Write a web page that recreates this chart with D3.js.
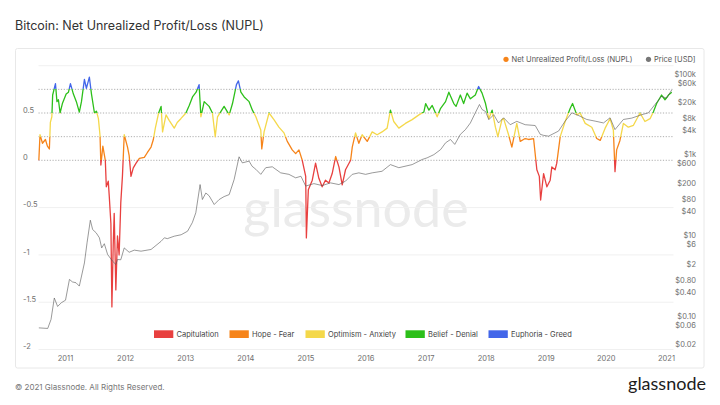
<!DOCTYPE html>
<html>
<head>
<meta charset="utf-8">
<script src="https://cdn.jsdelivr.net/npm/d3@7"></script>
<style>
  html, body { margin: 0; padding: 0; background: #fff; }
  svg { display: block; font-family: Inter, "Noto Sans", sans-serif; }
</style>
</head>
<body>
<svg id="chart"></svg>
<script>
// Bitcoin NUPL vs price

const nupl = [
  ['2010-07-23', 0.00], ['2010-07-30', 0.27], ['2010-08-14', 0.18], ['2010-09-01', 0.22],
  ['2010-09-13', 0.15], ['2010-09-25', 0.12], ['2010-10-01', 0.40], ['2010-10-10', 0.46],
  ['2010-10-15', 0.69], ['2010-11-01', 0.81], ['2010-11-10', 0.62], ['2010-11-19', 0.64],
  ['2010-11-29', 0.50], ['2010-12-13', 0.60], ['2011-01-05', 0.70], ['2011-01-19', 0.72],
  ['2011-01-31', 0.81], ['2011-02-18', 0.70], ['2011-03-08', 0.62], ['2011-03-26', 0.51],
  ['2011-04-08', 0.62], ['2011-04-26', 0.855], ['2011-05-08', 0.76], ['2011-05-26', 0.88],
  ['2011-06-08', 0.70], ['2011-06-26', 0.50], ['2011-07-08', 0.52], ['2011-07-20', 0.44],
  ['2011-07-30', 0.26], ['2011-08-04', -0.05], ['2011-08-16', 0.15], ['2011-08-31', 0.00],
  ['2011-09-06', -0.28], ['2011-09-18', -0.22], ['2011-09-24', -0.38], ['2011-10-04', -0.67],
  ['2011-10-10', -1.55], ['2011-10-18', -0.90], ['2011-10-24', -0.56], ['2011-11-03', -1.37],
  ['2011-11-13', -0.80], ['2011-11-23', -1.00], ['2011-12-03', -0.45], ['2011-12-13', -0.17],
  ['2011-12-24', 0.27], ['2012-01-13', 0.14], ['2012-01-23', 0.05], ['2012-02-03', -0.17],
  ['2012-02-17', -0.08], ['2012-03-05', -0.03], ['2012-03-25', 0.02], ['2012-04-24', 0.03],
  ['2012-05-12', 0.08], ['2012-06-04', 0.14], ['2012-06-18', 0.22], ['2012-06-30', 0.34],
  ['2012-07-20', 0.50], ['2012-08-04', 0.57], ['2012-08-13', 0.30], ['2012-09-03', 0.48],
  ['2012-09-23', 0.42], ['2012-10-23', 0.34], ['2012-11-10', 0.40], ['2012-12-02', 0.44],
  ['2013-01-02', 0.50], ['2013-01-22', 0.58], ['2013-02-11', 0.67], ['2013-03-05', 0.72],
  ['2013-03-23', 0.80], ['2013-04-03', 0.46], ['2013-04-23', 0.62], ['2013-05-23', 0.57],
  ['2013-06-12', 0.50], ['2013-06-29', 0.25], ['2013-07-13', 0.46], ['2013-08-04', 0.52],
  ['2013-08-22', 0.57], ['2013-09-22', 0.48], ['2013-10-12', 0.60], ['2013-11-05', 0.80],
  ['2013-11-17', 0.84], ['2013-12-02', 0.72], ['2013-12-22', 0.67], ['2014-01-21', 0.62],
  ['2014-02-10', 0.53], ['2014-03-03', 0.46], ['2014-04-02', 0.32], ['2014-04-08', 0.12],
  ['2014-04-22', 0.30], ['2014-05-22', 0.50], ['2014-06-21', 0.43], ['2014-07-21', 0.35],
  ['2014-08-21', 0.29], ['2014-09-10', 0.20], ['2014-10-10', 0.11], ['2014-10-31', 0.07],
  ['2014-11-20', 0.11], ['2014-12-10', 0.00], ['2014-12-31', -0.17], ['2015-01-04', -0.82],
  ['2015-01-16', -0.31], ['2015-02-09', -0.21], ['2015-03-01', -0.03], ['2015-03-21', -0.19],
  ['2015-04-10', -0.28], ['2015-04-30', -0.21], ['2015-05-21', -0.24], ['2015-06-10', -0.14],
  ['2015-07-01', 0.04], ['2015-07-21', -0.07], ['2015-08-10', -0.26], ['2015-08-30', -0.10],
  ['2015-09-30', 0.00], ['2015-10-10', 0.14], ['2015-10-30', 0.29], ['2015-11-19', 0.18],
  ['2015-12-09', 0.27], ['2016-01-09', 0.20], ['2016-02-08', 0.30], ['2016-03-09', 0.27],
  ['2016-04-08', 0.30], ['2016-05-09', 0.34], ['2016-05-29', 0.53], ['2016-06-18', 0.41],
  ['2016-07-19', 0.34], ['2016-08-28', 0.39], ['2016-10-08', 0.43], ['2016-11-18', 0.48],
  ['2016-12-18', 0.51], ['2016-12-29', 0.60], ['2017-01-18', 0.53], ['2017-02-07', 0.58],
  ['2017-03-09', 0.46], ['2017-03-30', 0.55], ['2017-04-29', 0.62], ['2017-05-19', 0.72],
  ['2017-06-18', 0.60], ['2017-07-02', 0.57], ['2017-07-28', 0.69], ['2017-08-17', 0.60],
  ['2017-09-07', 0.71], ['2017-09-27', 0.65], ['2017-10-27', 0.69], ['2017-11-16', 0.78],
  ['2017-12-07', 0.71], ['2017-12-28', 0.60], ['2018-01-17', 0.44], ['2018-02-06', 0.53],
  ['2018-02-26', 0.35], ['2018-03-13', 0.25], ['2018-04-07', 0.43], ['2018-04-17', 0.44],
  ['2018-05-17', 0.27], ['2018-06-06', 0.14], ['2018-07-06', 0.39], ['2018-07-27', 0.20],
  ['2018-08-26', 0.23], ['2018-09-16', 0.22], ['2018-10-16', 0.23], ['2018-11-05', -0.10],
  ['2018-11-20', -0.17], ['2018-11-28', -0.42], ['2018-12-16', -0.14], ['2019-01-05', -0.28],
  ['2019-01-25', -0.21], ['2019-02-04', -0.07], ['2019-02-24', -0.10], ['2019-03-06', -0.03],
  ['2019-03-27', 0.25], ['2019-04-26', 0.41], ['2019-05-27', 0.55], ['2019-06-10', 0.60],
  ['2019-07-06', 0.48], ['2019-07-26', 0.50], ['2019-08-26', 0.39], ['2019-10-05', 0.35],
  ['2019-11-04', 0.23], ['2019-11-25', 0.21], ['2019-12-25', 0.34], ['2020-01-24', 0.44],
  ['2020-02-13', 0.32], ['2020-02-23', -0.12], ['2020-03-04', 0.11], ['2020-03-24', 0.21],
  ['2020-04-14', 0.39], ['2020-05-14', 0.35], ['2020-06-14', 0.37], ['2020-07-24', 0.50],
  ['2020-08-23', 0.41], ['2020-09-23', 0.44], ['2020-10-13', 0.51], ['2020-11-02', 0.60],
  ['2020-12-02', 0.69], ['2020-12-23', 0.64], ['2021-01-13', 0.69], ['2021-02-02', 0.72]
];

const price = [
  ['2010-07-23', 0.062], ['2010-09-15', 0.06], ['2010-10-05', 0.10], ['2010-10-25', 0.34],
  ['2010-11-14', 0.21], ['2010-12-07', 0.26], ['2011-01-01', 0.30], ['2011-01-25', 0.98],
  ['2011-02-12', 0.85], ['2011-03-06', 0.81], ['2011-03-26', 0.67], ['2011-04-26', 2.5],
  ['2011-05-12', 7.9], ['2011-06-01', 28.6], ['2011-06-15', 16.8], ['2011-07-06', 14],
  ['2011-07-26', 10.5], ['2011-08-09', 5.9], ['2011-08-25', 7.5], ['2011-09-14', 4.05],
  ['2011-10-14', 2.77], ['2011-11-03', 2.3], ['2011-11-13', 3.05], ['2011-12-03', 3.0],
  ['2011-12-24', 5.9], ['2012-01-23', 4.6], ['2012-02-23', 5.2], ['2012-04-04', 4.9],
  ['2012-06-04', 5.4], ['2012-08-04', 8.6], ['2012-08-24', 10.5], ['2012-09-11', 10.0],
  ['2012-10-23', 11.5], ['2012-12-04', 12.5], ['2013-01-12', 15.3], ['2013-02-10', 25],
  ['2013-03-03', 43.6], ['2013-03-29', 218], ['2013-04-12', 93], ['2013-05-03', 135],
  ['2013-05-23', 115], ['2013-06-23', 70], ['2013-07-23', 93], ['2013-08-22', 110],
  ['2013-09-22', 123], ['2013-10-22', 290], ['2013-11-21', 1060], ['2013-12-11', 750],
  ['2014-01-21', 830], ['2014-02-08', 620], ['2014-03-03', 520], ['2014-04-02', 390],
  ['2014-05-02', 570], ['2014-06-11', 600], ['2014-08-01', 425], ['2014-09-20', 390],
  ['2014-10-31', 320], ['2014-12-02', 350], ['2014-12-31', 200], ['2015-02-19', 230],
  ['2015-04-10', 206], ['2015-05-31', 240], ['2015-07-21', 218], ['2015-08-30', 265],
  ['2015-10-10', 390], ['2015-11-19', 425], ['2015-12-30', 390], ['2016-02-08', 425],
  ['2016-04-08', 465], ['2016-05-29', 680], ['2016-07-19', 570], ['2016-10-08', 680],
  ['2016-12-08', 910], ['2017-01-07', 1000], ['2017-02-17', 1200], ['2017-03-30', 1600],
  ['2017-04-29', 2350], ['2017-05-29', 2840], ['2017-06-24', 2150], ['2017-07-28', 3800],
  ['2017-08-28', 5000], ['2017-09-27', 7300], ['2017-10-27', 13000], ['2017-11-21', 20900],
  ['2017-12-07', 15700], ['2017-12-28', 14000], ['2018-01-17', 8800], ['2018-02-16', 11700],
  ['2018-03-17', 7300], ['2018-04-17', 9800], ['2018-05-27', 6600], ['2018-07-06', 8000],
  ['2018-08-26', 6600], ['2018-10-26', 6300], ['2018-11-26', 3800], ['2018-12-16', 3600],
  ['2019-01-15', 3440], ['2019-03-17', 4600], ['2019-04-26', 8100], ['2019-06-06', 13000],
  ['2019-07-26', 10700], ['2019-09-04', 8900], ['2019-10-25', 8100], ['2019-12-15', 7300],
  ['2020-01-24', 9800], ['2020-02-23', 5000], ['2020-04-14', 8900], ['2020-06-03', 9600],
  ['2020-08-04', 11700], ['2020-09-13', 13000], ['2020-10-23', 20900], ['2020-12-02', 33000],
  ['2021-01-02', 30000], ['2021-02-02', 48000]
];

const nuplTicks = [0.5, 0, -0.5, -1, -1.5, -2];
const gridTicks = [1, -0.5, -1, -1.5, -2];
const zoneBreaks = [0, 0.25, 0.5, 0.75];

const priceTicks = [100000, 60000, 20000, 8000, 4000, 1000, 600, 200, 80, 40, 10, 6, 2, 0.8, 0.4, 0.1, 0.06, 0.02];
const priceTickLabels = ['$100k', '$60k', '$20k', '$8k', '$4k', '$1k', '$600', '$200', '$80', '$40',
  '$10', '$6', '$2', '$0.80', '$0.40', '$0.10', '$0.06', '$0.02'];

const zoneNames = ['Capitulation', 'Hope - Fear', 'Optimism - Anxiety', 'Belief - Denial', 'Euphoria - Greed'];
const zoneColors = ['#e8403f', '#f6841a', '#f4d84a', '#2cbf19', '#4266e9'];

const years = [2011, 2012, 2013, 2014, 2015, 2016, 2017, 2018, 2019, 2020, 2021];

const width = 720;
const height = 405;
const margin = { top: 65.7, right: 46.5, bottom: 55.5, left: 38.5 };
const chartWidth = width - margin.left - margin.right;
const chartHeight = height - margin.top - margin.bottom;

const parse = d3.timeParse('%Y-%m-%d');

const svg = d3.select('#chart')
  .attr('width', width)
  .attr('height', height);

// panel frame
svg.append('rect')
  .attr('x', 15.5)
  .attr('y', 48.5)
  .attr('width', 688.5)
  .attr('height', 319.5)
  .attr('rx', 2)
  .style('fill', '#fff')
  .style('stroke', '#e8e8e8');

// title
svg.append('text')
  .attr('x', 15)
  .attr('y', 29.5)
  .style('font-size', '12.5px')
  .style('fill', '#333')
  .text('Bitcoin: Net Unrealized Profit/Loss (NUPL)');

const g = svg.append('g')
  .attr('transform', `translate(${margin.left},${margin.top})`);

// scales
const xScale = d3.scaleTime()
  .domain([new Date(2011, 0, 1), new Date(2021, 0, 1)])
  .range([65.5 - margin.left, 666.5 - margin.left]);

const yScale = d3.scaleLinear()
  .domain([-2, 1])
  .range([chartHeight, 0]);

const pScale = d3.scaleLog()
  .domain([0.01807, 190500])
  .range([chartHeight, 0]);

// watermark
g.append('text')
  .attr('x', chartWidth / 2 - 0)
  .attr('y', 161)
  .attr('text-anchor', 'middle')
  .style('font-family', 'Lato, "Open Sans", sans-serif')
  .style('font-size', '52px')
  .style('fill', '#ebebeb')
  .text('glassnode');

// light grid
g.append('g')
  .selectAll('line')
  .data(gridTicks)
  .enter()
  .append('line')
  .attr('x1', 0)
  .attr('x2', chartWidth)
  .attr('y1', d => yScale(d))
  .attr('y2', d => yScale(d))
  .style('stroke', '#f0f0f0')
  .style('stroke-width', 1);

// zone threshold lines
g.append('g')
  .selectAll('line')
  .data(zoneBreaks)
  .enter()
  .append('line')
  .attr('x1', 0)
  .attr('x2', chartWidth)
  .attr('y1', d => yScale(d))
  .attr('y2', d => yScale(d))
  .style('stroke', '#9a9a9a')
  .style('stroke-width', 0.8)
  .style('stroke-dasharray', '1.2,1.6');

// left axis labels
g.append('g')
  .selectAll('text')
  .data(nuplTicks)
  .enter()
  .append('text')
  .attr('x', 23 - margin.left)
  .attr('y', d => yScale(d))
  .attr('dy', '-0.05em')
  .style('font-size', '7.5px')
  .style('fill', '#707070')
  .text(d => d);

// right axis labels
g.append('g')
  .selectAll('text')
  .data(priceTicks)
  .enter()
  .append('text')
  .attr('x', 696 - margin.left)
  .attr('y', d => pScale(d))
  .attr('dy', '-0.05em')
  .attr('text-anchor', 'end')
  .style('font-size', '7.5px')
  .style('fill', '#707070')
  .text((d, i) => priceTickLabels[i]);

// x axis labels
g.append('g')
  .selectAll('text')
  .data(years)
  .enter()
  .append('text')
  .attr('x', d => xScale(new Date(d, 0, 1)))
  .attr('y', chartHeight + 9.2)
  .attr('dy', '0.35em')
  .attr('text-anchor', 'middle')
  .style('font-size', '7.5px')
  .style('fill', '#707070')
  .text(d => d);

// zone gradient for the NUPL line
const grad = svg.append('defs')
  .append('linearGradient')
  .attr('id', 'zones')
  .attr('gradientUnits', 'userSpaceOnUse')
  .attr('x1', 0).attr('x2', 0)
  .attr('y1', yScale(1)).attr('y2', yScale(-2));

const bounds = [1, 0.75, 0.5, 0.25, 0, -2];
const stopColors = [zoneColors[4], zoneColors[3], zoneColors[2], zoneColors[1], zoneColors[0]];
stopColors.forEach((c, i) => {
  const o1 = (1 - bounds[i]) / 3;
  const o2 = (1 - bounds[i + 1]) / 3;
  grad.append('stop').attr('offset', o1).attr('stop-color', c);
  grad.append('stop').attr('offset', o2).attr('stop-color', c);
});

const nuplLine = d3.line()
  .x(d => xScale(parse(d[0])))
  .y(d => yScale(d[1]));

g.append('path')
  .datum(nupl)
  .attr('d', nuplLine)
  .style('fill', 'none')
  .style('stroke', 'url(#zones)')
  .style('stroke-width', 1.3)
  .style('stroke-linejoin', 'round');

const priceLine = d3.line()
  .x(d => xScale(parse(d[0])))
  .y(d => pScale(d[1]));

g.append('path')
  .datum(price)
  .attr('d', priceLine)
  .style('fill', 'none')
  .style('stroke', '#555')
  .style('stroke-opacity', 0.75)
  .style('stroke-width', 0.8)
  .style('stroke-linejoin', 'round');

// top legend
const topLegend = svg.append('g');
topLegend.append('circle')
  .attr('cx', 506).attr('cy', 59.3).attr('r', 2.6)
  .style('fill', zoneColors[1]);
topLegend.append('text')
  .attr('x', 511.5).attr('y', 59.3).attr('dy', '0.35em')
  .style('font-size', '7.5px').style('fill', '#555')
  .text('Net Unrealized Profit/Loss (NUPL)');
topLegend.append('circle')
  .attr('cx', 648.5).attr('cy', 59.3).attr('r', 2.6)
  .style('fill', '#777');
topLegend.append('text')
  .attr('x', 654).attr('y', 59.3).attr('dy', '0.35em')
  .style('font-size', '7.5px').style('fill', '#555')
  .text('Price [USD]');

// bottom legend
const legendX = [154, 229.5, 305.5, 405.5, 488.5];
const legend = svg.append('g')
  .selectAll('g')
  .data(zoneNames)
  .enter()
  .append('g')
  .attr('transform', (d, i) => `translate(${legendX[i]},330.3)`);

legend.append('rect')
  .attr('width', 19.3)
  .attr('height', 7.7)
  .style('fill', (d, i) => zoneColors[i]);

legend.append('text')
  .attr('x', 22.5)
  .attr('y', 3.9)
  .attr('dy', '0.35em')
  .style('font-size', '7.5px')
  .style('fill', '#444')
  .text(d => d);

// footer
svg.append('text')
  .attr('x', 15)
  .attr('y', 387)
  .attr('dy', '0.35em')
  .style('font-size', '8px')
  .style('fill', '#777')
  .text('\u00a9 2021 Glassnode. All Rights Reserved.');

svg.append('text')
  .attr('x', 706)
  .attr('y', 390)
  .attr('text-anchor', 'end')
  .style('font-family', 'Lato, "Open Sans", sans-serif')
  .style('font-size', '18px')
  .style('fill', '#1c1c1c')
  .text('glassnode');
</script>
</body>
</html>
